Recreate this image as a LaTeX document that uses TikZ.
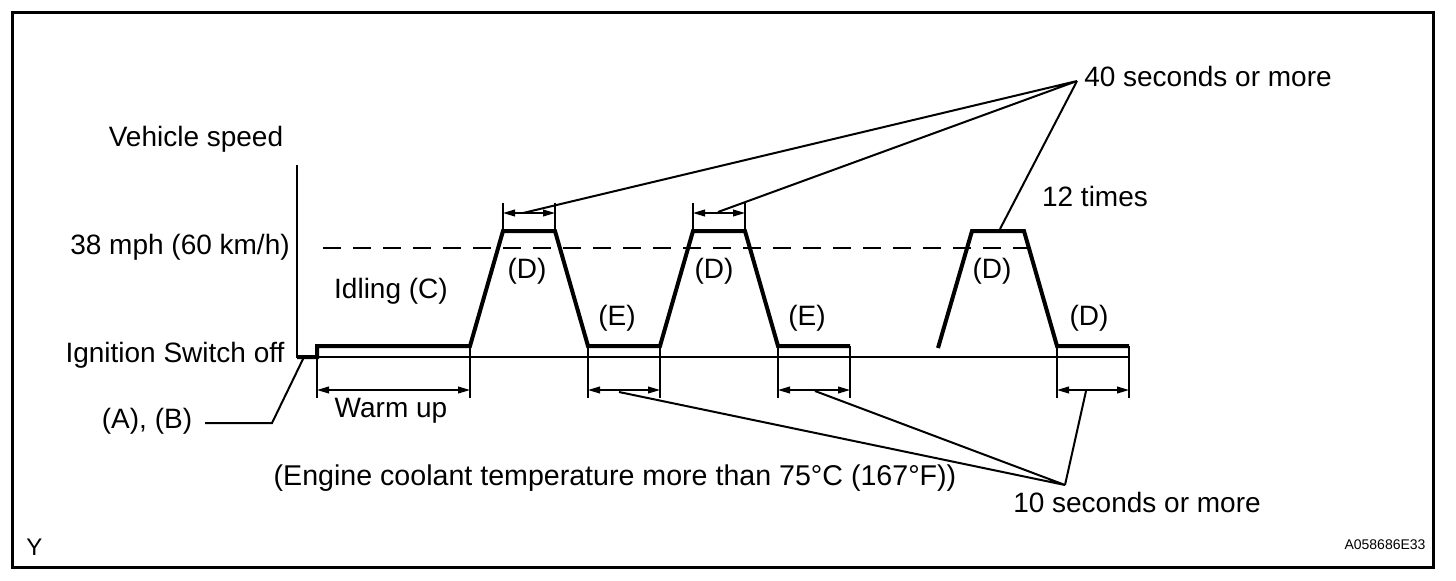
\documentclass[tikz,border=0pt]{standalone}
\usepackage{fontspec}
\setmainfont{Liberation Sans}
\usetikzlibrary{arrows.meta}
\begin{document}
\begin{tikzpicture}[x=0.5pt,y=-0.5pt,
 lbl/.style={font=\fontsize{14}{16}\selectfont, inner sep=0pt},
 small/.style={font=\fontsize{7}{8}\selectfont, inner sep=0pt},
 speed/.style={line width=2pt, line join=miter},
 thinline/.style={line width=0.7pt},
 lead/.style={line width=1pt},
 dashline/.style={line width=0.6pt, dash pattern=on 9pt off 6pt},
 dimline/.style={line width=0.7pt, {Triangle[length=6pt,width=3.4pt]}-{Triangle[length=6pt,width=3.4pt]}},
]
\useasboundingbox (0,0) rectangle (1456,580);
\draw[line width=1.5pt] (12,12) rectangle (1433,567);

% axes
\coordinate (o) at (297,357);
\coordinate (ytop) at (297,165);
\coordinate (xend) at (1130,357);
\draw[thinline] (ytop) -- (o) -- (xend);

% speed profile points
\coordinate (w0) at (317,357);
\coordinate (w0u) at (317,346);
\coordinate (w1) at (470,346);
\coordinate (t1a) at (503,231);
\coordinate (t1b) at (555,231);
\coordinate (e1a) at (588,346);
\coordinate (e1b) at (660,346);
\coordinate (t2a) at (693,231);
\coordinate (t2b) at (745,231);
\coordinate (e2a) at (778,346);
\coordinate (e2b) at (850,346);
\coordinate (s3) at (938,348);
\coordinate (t3a) at (972,231);
\coordinate (t3b) at (1024,231);
\coordinate (d3a) at (1057,346);
\coordinate (d3b) at (1129,346);

% dashed 38 mph line
\coordinate (da) at (323,248);
\coordinate (db) at (1028,248);
\draw[dashline] (da) -- (db);

\draw[speed] (o) -- (w0) -- (w0u) -- (w1) -- (t1a) -- (t1b) -- (e1a) -- (e1b) -- (t2a) -- (t2b) -- (e2a) -- (e2b);
\draw[speed] (s3) -- (t3a) -- (t3b) -- (d3a) -- (d3b);

% bottom extension line ends
\coordinate (w0low) at (317,398);
\coordinate (w1low) at (470,398);
\coordinate (e1alow) at (588,398);
\coordinate (e1blow) at (660,398);
\coordinate (e2alow) at (778,398);
\coordinate (e2blow) at (850,398);
\coordinate (d3alow) at (1057,398);
\coordinate (d3blow) at (1129,398);
\draw[thinline] (w0) -- (w0low);
\draw[thinline] (w1) -- (w1low);
\draw[thinline] (e1a) -- (e1alow);
\draw[thinline] (e1b) -- (e1blow);
\draw[thinline] (e2a) -- (e2alow);
\draw[thinline] (e2b) -- (e2blow);
\draw[thinline] (d3a) -- (d3alow);
\draw[thinline] (d3b) -- (d3blow);

% bottom dimension arrows
\coordinate (w0dim) at (317,390);
\coordinate (w1dim) at (470,390);
\coordinate (e1adim) at (588,390);
\coordinate (e1bdim) at (660,390);
\coordinate (e2adim) at (778,390);
\coordinate (e2bdim) at (850,390);
\coordinate (d3adim) at (1057,390);
\coordinate (d3bdim) at (1129,390);
\draw[dimline] (w0dim) -- (w1dim);
\draw[dimline] (e1adim) -- (e1bdim);
\draw[dimline] (e2adim) -- (e2bdim);
\draw[dimline] (d3adim) -- (d3bdim);

% top extension lines and dimension arrows
\coordinate (t1aup) at (503,203);
\coordinate (t1bup) at (555,203);
\coordinate (t2aup) at (693,203);
\coordinate (t2bup) at (745,203);
\draw[thinline] (t1a) -- (t1aup);
\draw[thinline] (t1b) -- (t1bup);
\draw[thinline] (t2a) -- (t2aup);
\draw[thinline] (t2b) -- (t2bup);
\coordinate (t1adim) at (503,213);
\coordinate (t1bdim) at (555,213);
\coordinate (t2adim) at (693,213);
\coordinate (t2bdim) at (745,213);
\draw[dimline] (t1adim) -- (t1bdim);
\draw[dimline] (t2adim) -- (t2bdim);

% labels
\node[lbl] (vs) at (196,139) {Vehicle speed};
\node[lbl] (mph) at (180,247) {38 mph (60 km/h)};
\node[lbl] (idle) at (391,291) {Idling (C)};
\node[lbl] (ign) at (175,355) {Ignition Switch off};
\node[lbl] (ab) at (147,421) {(A), (B)};
\node[lbl] (warm) at (391,411) {Warm up};
\node[lbl] (d1) at (527,271) {(D)};
\node[lbl] (d2) at (714,271) {(D)};
\node[lbl] (d3) at (992,271) {(D)};
\node[lbl] (d4) at (1089,318) {(D)};
\node[lbl] (e1) at (617,318) {(E)};
\node[lbl] (e2) at (807,318) {(E)};
\node[lbl] (forty) at (1208,76) {40 seconds or more};
\node[lbl] (twelve) at (1095,196) {12 times};
\node[lbl, font=\fontsize{14.3}{16}\selectfont] (eng) at (615,478) {(Engine coolant temperature more than 75°C (167°F))};
\node[lbl] (ten) at (1137,502) {10 seconds or more};
\node[lbl, font=\fontsize{12}{14}\selectfont] (ylab) at (34.5,547) {Y};
\node[small] (code) at (1385,545) {A058686E33};

% leaders
\coordinate (apexT) at (1077,81);
\coordinate (lt1) at (523,213);
\coordinate (lt2) at (718,212);
\coordinate (lt3) at (1000,229);
\draw[lead] (lt1) -- (apexT) -- (lt2);
\draw[lead] (apexT) -- (lt3);

\coordinate (apexB) at (1065,485);
\coordinate (lb1) at (619,392);
\coordinate (lb2) at (815,391);
\coordinate (lb3) at (1086,391);
\draw[lead] (lb1) -- (apexB) -- (lb2);
\draw[lead] (apexB) -- (lb3);

\coordinate (abl) at (205,423);
\coordinate (abm) at (272,423);
\coordinate (abt) at (304,357);
\draw[lead] (abl) -- (abm) -- (abt);
\end{tikzpicture}
\end{document}
